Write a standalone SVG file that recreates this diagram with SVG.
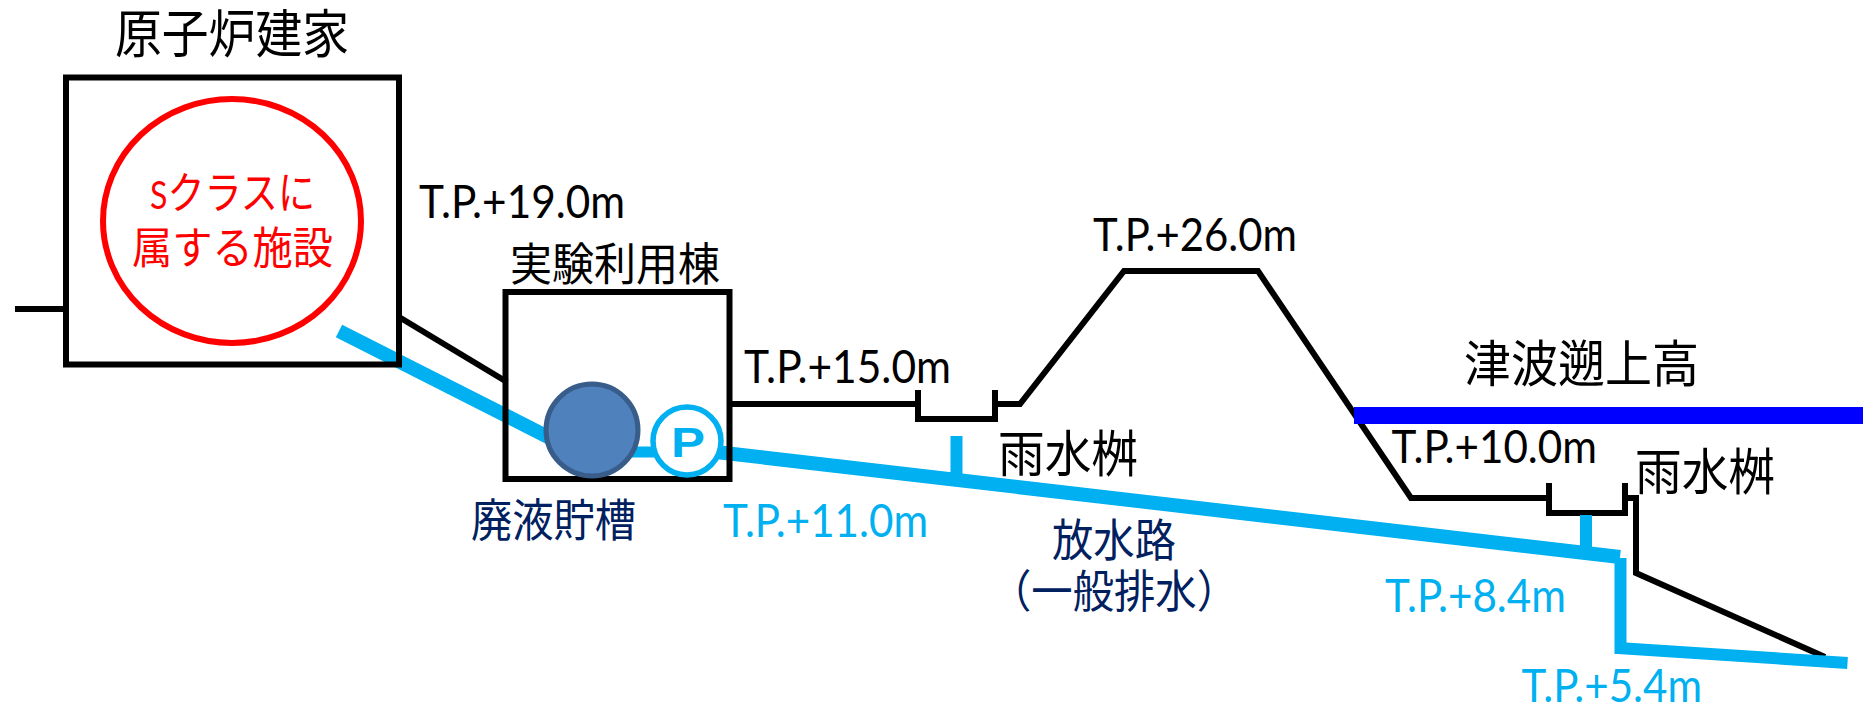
<svg xmlns="http://www.w3.org/2000/svg" width="1863" height="705" viewBox="0 0 1863 705">
<style>
.k{fill:none;stroke:#000;stroke-width:6;stroke-linejoin:miter;stroke-linecap:butt}
.b{fill:none;stroke:#00B0F0;stroke-width:14}
text{font-family:"Noto Sans CJK JP","Noto Sans",sans-serif;fill:#000}
.l{font-family:Lato,"Noto Sans",sans-serif;font-size:46px}
.c{fill:#00B0F0}
.n{fill:#002060}
.r{fill:#FF0000}
</style>
<rect width="1863" height="705" fill="#fff"/>
<g id="connectors">
<path class="k" d="M15 309H66"/>
<path class="k" d="M399 317L507 382"/>
<path class="k" d="M729 404H918M995 404H1020L1124 271H1258L1411 498H1549M1625 498H1636V573L1825 657"/>
<path class="k" d="M918 390V419H995V390"/>
<path class="k" d="M1549 483V513H1625V483"/>
<path class="b" d="M339 331L550 438"/>
<path class="b" style="stroke-width:11" d="M630 452H660"/>
<path class="b" d="M716 452L1620 557"/>
<path class="b" style="stroke-width:12" d="M956.500 436V480"/>
<path class="b" style="stroke-width:12" d="M1586 515V552"/>
<path class="b" style="stroke-width:12" d="M1620.500 558V654"/>
<path class="b" style="stroke-width:12" d="M1618 648L1847.500 663"/>
</g>
<g id="reactor-building">
<rect class="k" x="66" y="77.500" width="333" height="287"/>
<text x="115" y="53" font-size="52" textLength="234" lengthAdjust="spacingAndGlyphs">原子炉建家</text>
</g>
<g id="s-class">
<ellipse cx="232" cy="221" rx="129" ry="122" fill="none" stroke="#FF0000" stroke-width="6"/>
<text class="r" x="150" y="209" font-size="44" textLength="165" lengthAdjust="spacingAndGlyphs"><tspan font-size="38" style="font-family:Lato,sans-serif">S</tspan>クラスに</text>
<text class="r" x="132" y="264" font-size="44" textLength="201" lengthAdjust="spacingAndGlyphs">属する施設</text>
</g>
<g id="experiment-building">
<rect class="k" x="505.500" y="292" width="224" height="187"/>
<text x="510" y="281" font-size="45" textLength="210" lengthAdjust="spacingAndGlyphs">実験利用棟</text>
</g>
<g id="tank">
<ellipse cx="592" cy="430" rx="46" ry="46" fill="#4F81BD" stroke="#385D8A" stroke-width="5"/>
<text class="n" x="471" y="537" font-size="45" textLength="165" lengthAdjust="spacingAndGlyphs">廃液貯槽</text>
</g>
<g id="pump">
<circle cx="687" cy="441" r="34" fill="#fff" stroke="#00B0F0" stroke-width="5.500"/>
<text class="c" x="671" y="457" font-size="42" font-weight="700" textLength="34" lengthAdjust="spacingAndGlyphs" style="font-family:'Liberation Sans',sans-serif">P</text>
</g>
<g id="tsunami">
<rect x="1354" y="407" width="509" height="17" fill="#0000FF"/>
<text x="1464" y="382" font-size="50" textLength="235" lengthAdjust="spacingAndGlyphs">津波遡上高</text>
</g>
<g id="labels">
<text class="l" x="419" y="218" textLength="206" lengthAdjust="spacingAndGlyphs">T.P.+19.0m</text>
<text class="l" x="744" y="383" textLength="207" lengthAdjust="spacingAndGlyphs">T.P.+15.0m</text>
<text class="l" x="1093" y="251" textLength="204" lengthAdjust="spacingAndGlyphs">T.P.+26.0m</text>
<text class="l" x="1391.500" y="463" textLength="205.500" lengthAdjust="spacingAndGlyphs">T.P.+10.0m</text>
<text class="l c" x="723" y="537" textLength="205" lengthAdjust="spacingAndGlyphs">T.P.+11.0m</text>
<text class="l c" x="1385" y="612" textLength="181" lengthAdjust="spacingAndGlyphs">T.P.+8.4m</text>
<text class="l c" x="1521.500" y="702" textLength="180.500" lengthAdjust="spacingAndGlyphs">T.P.+5.4m</text>
<text x="998" y="472" font-size="50" textLength="140" lengthAdjust="spacingAndGlyphs">雨水桝</text>
<text x="1635" y="490" font-size="50" textLength="140" lengthAdjust="spacingAndGlyphs">雨水桝</text>
<text class="n" x="1052" y="557" font-size="45" textLength="124" lengthAdjust="spacingAndGlyphs">放水路</text>
<text class="n" x="990" y="608" font-size="45" textLength="248" lengthAdjust="spacingAndGlyphs">（一般排水）</text>
</g>
</svg>
